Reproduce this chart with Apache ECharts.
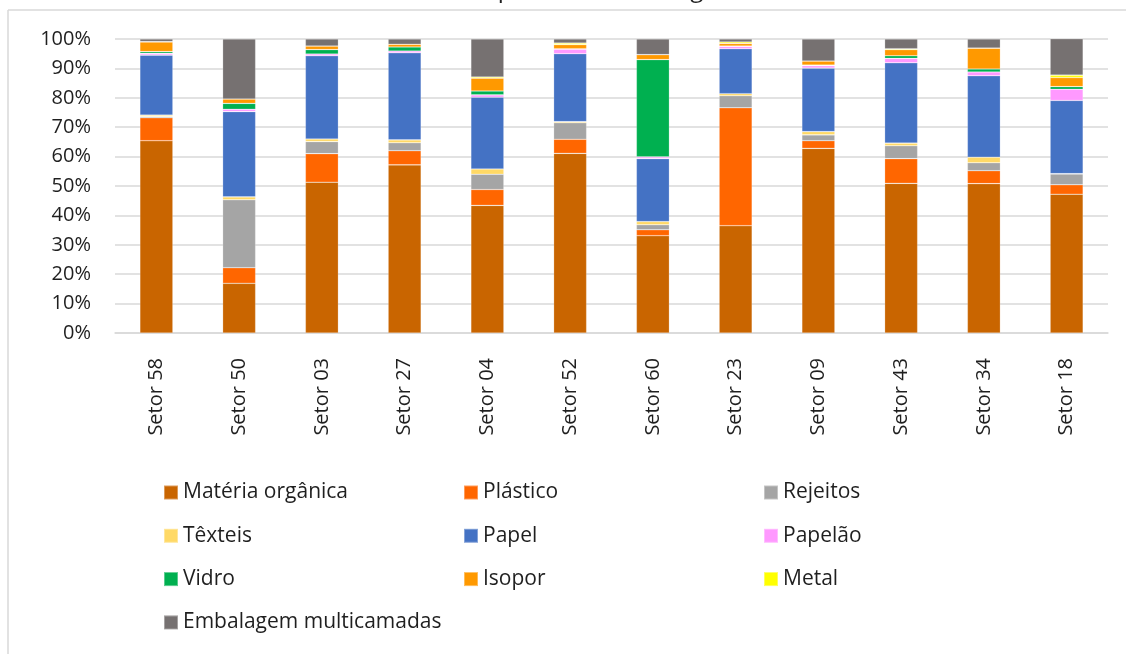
<!DOCTYPE html>
<html>
<head>
<meta charset="utf-8">
<script src="https://cdn.jsdelivr.net/npm/echarts@6/dist/echarts.min.js"></script>
<style>
  html, body { margin: 0; padding: 0; background: #fff; }
  #chart { width: 1126px; height: 654px; }
</style>
</head>
<body>
<div id="chart"></div>
<script>
let setores = ['Setor 58','Setor 50','Setor 03','Setor 27','Setor 04','Setor 52','Setor 60','Setor 23','Setor 09','Setor 43','Setor 34','Setor 18']

let materiaOrganica = [65.4, 16.9, 51.3, 57.2, 43.4, 61.1, 33.1, 36.5, 62.8, 50.9, 50.8, 47.2]
let plastico        = [ 7.8,  5.3,  9.7,  4.8,  5.4,  4.8,  2.0, 40.1,  2.6,  8.4,  4.4,  3.2]
let rejeitos        = [ 0.4, 23.1,  4.1,  2.7,  5.2,  5.6,  1.7,  4.1,  2.0,  4.4,  2.7,  3.7]
let texteis         = [ 0.5,  1.0,  0.9,  1.0,  1.8,  0.4,  1.1,  0.7,  1.1,  0.9,  1.9,  0.1]
let papel           = [20.4, 29.0, 28.3, 29.6, 24.4, 23.1, 21.4, 15.3, 21.6, 27.3, 27.7, 24.9]
let papelao         = [ 0.6,  0.8,  0.6,  0.6,  0.8,  1.5,  0.6,  0.8,  0.8,  1.5,  1.3,  3.8]
let vidro           = [ 0.6,  2.0,  1.5,  1.4,  1.3,  0.2, 33.1,  0.1,  0.2,  0.9,  1.0,  0.9]
let isopor          = [ 3.3,  1.5,  1.2,  0.9,  4.4,  1.4,  1.7,  0.9,  1.4,  2.1,  7.1,  3.1]
let metal           = [ 0.1,  0.0,  0.0,  0.0,  0.4,  0.5,  0.0,  0.5,  0.0,  0.3,  0.0,  0.8]
let embalagem       = [ 0.9, 20.4,  2.4,  1.8, 12.9,  1.4,  5.3,  1.0,  7.5,  3.3,  3.1, 12.4]

let yTicks = [0, 10, 20, 30, 40, 50, 60, 70, 80, 90, 100]

let materiais = [
  { name: 'Matéria orgânica', data: materiaOrganica, color: '#C96500' },
  { name: 'Plástico', data: plastico, color: '#FF6600' },
  { name: 'Rejeitos', data: rejeitos, color: '#A5A5A5' },
  { name: 'Têxteis', data: texteis, color: '#FFD966' },
  { name: 'Papel', data: papel, color: '#4472C4' },
  { name: 'Papelão', data: papelao, color: '#FF99FF' },
  { name: 'Vidro', data: vidro, color: '#00B050' },
  { name: 'Isopor', data: isopor, color: '#FF9900' },
  { name: 'Metal', data: metal, color: '#FFFF00' },
  { name: 'Embalagem multicamadas', data: embalagem, color: '#767171' }
]

const font = '"Open Sans", Lato, sans-serif'
const textColor = '#1f1f1f'

// legend laid out as a 3 column grid, one legend per item
let legends = materiais.map((m, i) => {
  return {
    data: [m.name],
    left: 158 + (i % 3) * 300,
    top: 477 + Math.floor(i / 3) * 43.3,
    itemWidth: 14,
    itemHeight: 14,
    itemGap: 6,
    icon: 'rect',
    selectedMode: false,
    textStyle: { fontFamily: font, fontSize: 21, color: textColor }
  }
})

var chart = echarts.init(document.getElementById('chart'))
let option = {
  animation: false,
  title: {
    text: 'Resíduos mais representativos da gravimetria',
    left: 'center',
    top: -27,
    textStyle: { fontFamily: font, fontSize: 24, fontWeight: 'normal', color: textColor }
  },
  graphic: [
    { type: 'line', shape: { x1: 8, y1: 10, x2: 1126, y2: 10 }, style: { stroke: '#D9D9D9', lineWidth: 1.5 } },
    { type: 'line', shape: { x1: 8, y1: 10, x2: 8, y2: 654 }, style: { stroke: '#D9D9D9', lineWidth: 1.5 } }
  ],
  legend: legends,
  grid: {
    left: 115,
    right: 18,
    top: 39,
    height: 294
  },
  xAxis: {
    type: 'category',
    data: setores,
    axisLine: { show: true, lineStyle: { color: '#D9D9D9', width: 1.5 } },
    axisTick: { show: false },
    axisLabel: {
      rotate: 90,
      margin: 25,
      fontFamily: font,
      fontSize: 20,
      color: textColor
    }
  },
  yAxis: {
    type: 'value',
    min: 0,
    max: 100,
    interval: 10,
    axisLine: { show: false },
    axisTick: { show: false },
    splitLine: { lineStyle: { color: '#D9D9D9', width: 1.5 } },
    axisLabel: {
      margin: 24,
      fontFamily: font,
      fontSize: 20,
      color: textColor,
      formatter: v => yTicks.includes(v) ? v + '%' : ''
    }
  },
  series: materiais.map(m => {
    return {
      name: m.name,
      type: 'bar',
      stack: 'total',
      barWidth: 33,
      data: m.data,
      itemStyle: {
        color: m.color,
        borderColor: 'rgba(255,255,255,0.35)',
        borderWidth: 0.6
      }
    }
  })
}
chart.setOption(option)
</script>
</body>
</html>
